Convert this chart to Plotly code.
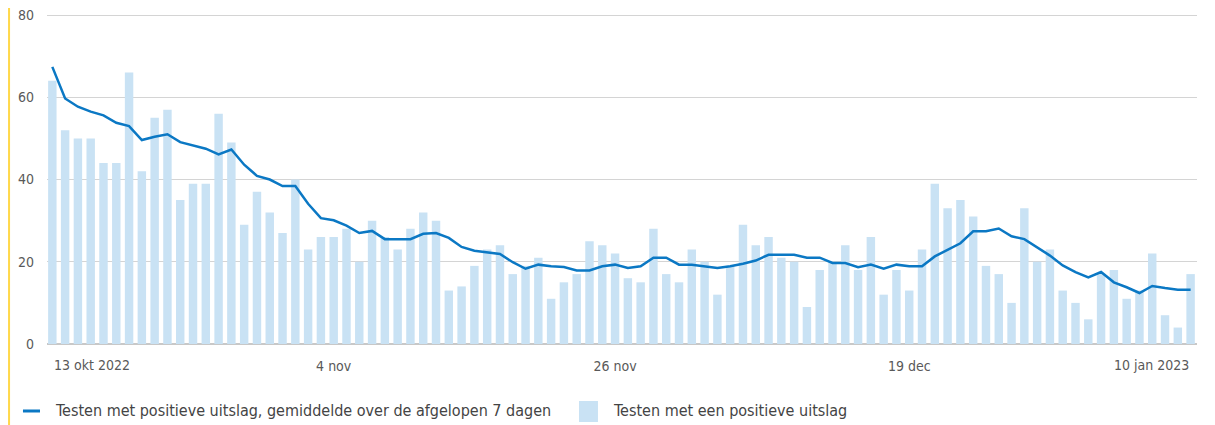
import pandas as pd
import plotly.graph_objects as go

# dagelijkse positieve testen, 13 okt 2022 t/m 10 jan 2023
start_date = "2022-10-13"
positive_tests = [
    64, 52, 50, 50, 44, 44, 66, 42, 55, 57,
    35, 39, 39, 56, 49, 29, 37, 32, 27, 40,
    23, 26, 26, 28, 20, 30, 26, 23, 28, 32,
    30, 13, 14, 19, 23, 24, 17, 19, 21, 11,
    15, 17, 25, 24, 22, 16, 15, 28, 17, 15,
    23, 20, 12, 19, 29, 24, 26, 21, 20, 9,
    18, 20, 24, 18, 26, 12, 18, 13, 23, 39,
    33, 35, 31, 19, 17, 10, 33, 20, 23, 13,
    10, 6, 17, 18, 11, 13, 22, 7, 4, 17,
]
avg_7d = [
    67.4, 59.7, 57.7, 56.5, 55.6, 53.8, 53.0, 49.6, 50.4, 51.0,
    49.1, 48.3, 47.5, 46.1, 47.3, 43.6, 40.9, 40.0, 38.4, 38.4,
    34.1, 30.6, 30.1, 28.8, 27.0, 27.5, 25.5, 25.5, 25.5, 26.8,
    27.0, 25.8, 23.6, 22.7, 22.3, 21.9, 19.9, 18.3, 19.3, 18.9,
    18.7, 17.9, 17.9, 18.9, 19.3, 18.5, 18.9, 21.0, 21.0, 19.3,
    19.3, 18.9, 18.5, 18.9, 19.5, 20.3, 21.7, 21.7, 21.7, 21.0,
    21.0, 19.7, 19.7, 18.7, 19.3, 18.3, 19.3, 18.9, 18.9, 21.3,
    22.9, 24.5, 27.4, 27.4, 28.1, 26.2, 25.5, 23.6, 21.5, 19.1,
    17.5, 16.2, 17.5, 15.0, 13.8, 12.4, 14.1, 13.6, 13.2, 13.2,
]
mid_ticks = ["2022-11-04", "2022-11-26", "2022-12-19"]
mid_labels = ["4 nov", "26 nov", "19 dec"]
first_label = "13 okt 2022"
last_label = "10 jan 2023"
y_ticks = [0, 20, 40, 60, 80]

legend_line = "Testen met positieve uitslag, gemiddelde over de afgelopen 7 dagen"
legend_bar = "Testen met een positieve uitslag"

dates = pd.date_range(start_date, periods=len(positive_tests), freq="D")

FONT = "Liberation Sans Narrow, DejaVu Sans Condensed, Roboto Condensed, Roboto, sans-serif"
BLUE = "#0b78c4"
LIGHT = "#c9e2f4"
TEXT = "#444444"
TICK = "#595959"
GRID = "#d4d4d4"

fig = go.Figure()
fig.add_trace(go.Bar(
    x=dates, y=positive_tests, marker=dict(color=LIGHT, line=dict(width=0)),
    name=legend_bar, showlegend=False,
))
fig.add_trace(go.Scatter(
    x=dates, y=avg_7d, mode="lines", line=dict(color=BLUE, width=2.5),
    name=legend_line, showlegend=False,
))

# labels aan begin en eind, links/rechts uitgelijnd op de data
fig.add_annotation(x=dates[0], y=-0.0634, xref="x", yref="paper", text=first_label,
                   showarrow=False, xanchor="left", yanchor="middle",
                   font=dict(family=FONT, size=14, color=TICK))
fig.add_annotation(x=dates[-1], y=-0.0634, xref="x", yref="paper", text=last_label,
                   showarrow=False, xanchor="right", yanchor="middle",
                   font=dict(family=FONT, size=14, color=TICK))

# gele rand links
fig.add_shape(type="line", xref="paper", yref="paper", x0=-0.0330, x1=-0.0330,
              y0=-0.3, y1=1.1, line=dict(color="#ffd84a", width=2))

# legenda
fig.add_shape(type="line", xref="paper", yref="paper", x0=-0.0209, x1=-0.0061,
              y0=-0.2024, y1=-0.2024, line=dict(color=BLUE, width=3))
fig.add_shape(type="rect", xref="paper", yref="paper", x0=0.4626, x1=0.4791,
              y0=-0.2356, y1=-0.1722, fillcolor=LIGHT, line=dict(width=0))
fig.add_annotation(x=0.005, y=-0.2024, xref="paper", yref="paper", text=legend_line,
                   showarrow=False, xanchor="left", yanchor="middle",
                   font=dict(family=FONT, size=16, color=TEXT))
fig.add_annotation(x=0.4905, y=-0.2024, xref="paper", yref="paper", text=legend_bar,
                   showarrow=False, xanchor="left", yanchor="middle",
                   font=dict(family=FONT, size=16, color=TEXT))

# de pagina heeft 8px marge, daarom 1207x417
fig.update_layout(
    width=1207, height=417,
    margin=dict(l=39, r=18, t=5, b=81, autoexpand=False),
    paper_bgcolor="white", plot_bgcolor="white",
    bargap=0.34,
    showlegend=False,
    font=dict(family=FONT, size=14, color=TICK),
)
fig.update_xaxes(
    type="date", automargin=False,
    range=[dates[0] - pd.Timedelta(hours=10), dates[-1] + pd.Timedelta(hours=12)],
    tickvals=mid_ticks, ticktext=mid_labels,
    showgrid=False, zeroline=False, showline=False, ticks="",
    ticklabelstandoff=12,
)
fig.update_yaxes(
    range=[0, 80.5], tickvals=y_ticks, automargin=False,
    ticklabeloverflow="allow",
    showgrid=True, gridcolor=GRID, gridwidth=1,
    zeroline=True, zerolinecolor="#c8c8c8", zerolinewidth=1.5,
    showline=False, ticks="",
    ticklabelstandoff=12,
)

fig.write_html("out.html")
